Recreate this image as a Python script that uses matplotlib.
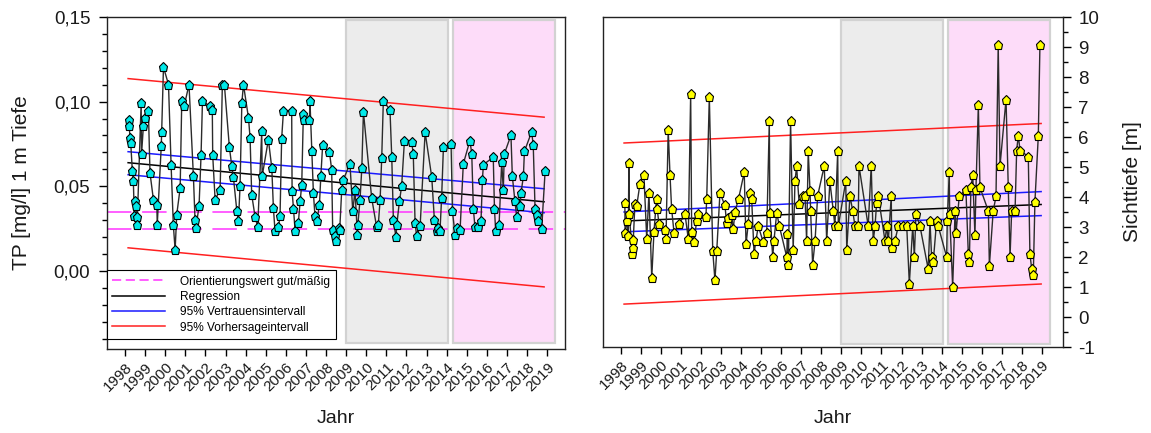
import matplotlib
matplotlib.use("Agg")
import matplotlib.pyplot as plt
from matplotlib.lines import Line2D
from matplotlib.patches import Rectangle
from matplotlib.ticker import MultipleLocator, FuncFormatter, FixedLocator

plt.rcParams['font.family'] = ['Liberation Sans', 'DejaVu Sans']

# ---------------- data ----------------
years = list(range(1998, 2020))

tp_time = [
    1998.17, 1998.20, 1998.25, 1998.28, 1998.36, 1998.41, 1998.46, 1998.50, 1998.53, 1998.58,
    1998.60, 1998.80, 1998.82, 1998.91, 1999.00, 1999.16, 1999.24, 1999.41, 1999.58, 1999.60,
    1999.80, 1999.82, 1999.91, 2000.16, 2000.29, 2000.40, 2000.49, 2000.57, 2000.74, 2000.82,
    2000.94, 2001.18, 2001.40, 2001.48, 2001.52, 2001.68, 2001.78, 2001.85, 2002.23, 2002.34,
    2002.36, 2002.48, 2002.73, 2002.84, 2002.94, 2003.19, 2003.31, 2003.39, 2003.56, 2003.64,
    2003.72, 2003.81, 2003.89, 2004.14, 2004.22, 2004.30, 2004.47, 2004.60, 2004.80, 2004.82,
    2005.13, 2005.30, 2005.38, 2005.46, 2005.63, 2005.71, 2005.79, 2005.88, 2006.29, 2006.31,
    2006.38, 2006.46, 2006.62, 2006.71, 2006.79, 2006.87, 2006.89, 2007.17, 2007.20, 2007.29,
    2007.37, 2007.45, 2007.54, 2007.67, 2007.74, 2007.83, 2008.17, 2008.28, 2008.33, 2008.45,
    2008.50, 2008.66, 2008.68, 2008.78, 2008.86, 2009.19, 2009.33, 2009.44, 2009.56, 2009.58,
    2009.69, 2009.78, 2009.86, 2010.27, 2010.52, 2010.60, 2010.69, 2010.77, 2010.85, 2011.18,
    2011.27, 2011.35, 2011.48, 2011.52, 2011.65, 2011.76, 2011.90, 2012.26, 2012.34, 2012.43,
    2012.51, 2012.68, 2012.93, 2013.26, 2013.39, 2013.51, 2013.59, 2013.67, 2013.75, 2013.84,
    2014.22, 2014.29, 2014.42, 2014.50, 2014.67, 2014.83, 2015.16, 2015.25, 2015.33, 2015.41,
    2015.58, 2015.71, 2015.78, 2015.83, 2016.32, 2016.38, 2016.44, 2016.61, 2016.74, 2016.82,
    2016.87, 2017.20, 2017.27, 2017.40, 2017.49, 2017.65, 2017.70, 2017.82, 2017.87, 2018.23,
    2018.31, 2018.40, 2018.48, 2018.56, 2018.73, 2018.90,
]
tp_value = [
    0.0894, 0.0858, 0.0785, 0.0756, 0.0592, 0.0533, 0.0322, 0.0410, 0.0381, 0.0318,
    0.0272, 0.0993, 0.0691, 0.0854, 0.0904, 0.0943, 0.0578, 0.0420, 0.0391, 0.0272,
    0.0736, 0.0819, 0.1204, 0.1101, 0.0624, 0.0272, 0.0124, 0.0332, 0.0489, 0.1002,
    0.0973, 0.1101, 0.0558, 0.0302, 0.0253, 0.0381, 0.0683, 0.1002, 0.0973, 0.0953,
    0.0683, 0.0420, 0.0480, 0.1101, 0.1101, 0.0730, 0.0618, 0.0553, 0.0355, 0.0292,
    0.0499, 0.0993, 0.1101, 0.0904, 0.0785, 0.0450, 0.0318, 0.0259, 0.0825, 0.0558,
    0.0776, 0.0608, 0.0371, 0.0237, 0.0257, 0.0322, 0.0780, 0.0943, 0.0943, 0.0470,
    0.0367, 0.0237, 0.0282, 0.0410, 0.0509, 0.0924, 0.0890, 0.0890, 0.1002, 0.0706,
    0.0460, 0.0322, 0.0292, 0.0391, 0.0558, 0.0742, 0.0700, 0.0598, 0.0243, 0.0203,
    0.0178, 0.0253, 0.0243, 0.0479, 0.0539, 0.0632, 0.0351, 0.0476, 0.0213, 0.0268,
    0.0420, 0.0608, 0.0939, 0.0430, 0.0257, 0.0272, 0.0420, 0.0667, 0.1002, 0.0953,
    0.0671, 0.0302, 0.0197, 0.0272, 0.0410, 0.0499, 0.0768, 0.0762, 0.0691, 0.0282,
    0.0203, 0.0262, 0.0819, 0.0553, 0.0302, 0.0233, 0.0253, 0.0237, 0.0430, 0.0730,
    0.0750, 0.0351, 0.0213, 0.0253, 0.0243, 0.0632, 0.0770, 0.0691, 0.0367, 0.0257,
    0.0257, 0.0292, 0.0539, 0.0628, 0.0671, 0.0367, 0.0233, 0.0272, 0.0643, 0.0479,
    0.0691, 0.0801, 0.0558, 0.0410, 0.0316, 0.0381, 0.0460, 0.0558, 0.0706, 0.0821,
    0.0742, 0.0367, 0.0331, 0.0292, 0.0249, 0.0588,
]

st_time = [
    1998.21, 1998.22, 1998.30, 1998.38, 1998.41, 1998.43, 1998.58, 1998.60, 1998.63, 1998.71,
    1998.80, 1998.96, 1999.16, 1999.30, 1999.41, 1999.55, 1999.66, 1999.79, 1999.82, 1999.91,
    2000.21, 2000.26, 2000.37, 2000.46, 2000.54, 2000.66, 2000.91, 2001.21, 2001.37, 2001.49,
    2001.54, 2001.65, 2001.79, 2001.87, 2002.25, 2002.29, 2002.42, 2002.59, 2002.70, 2002.79,
    2002.95, 2003.20, 2003.28, 2003.36, 2003.53, 2003.61, 2003.70, 2003.88, 2004.16, 2004.25,
    2004.36, 2004.45, 2004.53, 2004.65, 2004.74, 2004.86, 2005.11, 2005.28, 2005.41, 2005.44,
    2005.58, 2005.64, 2005.78, 2005.91, 2006.28, 2006.31, 2006.36, 2006.47, 2006.60, 2006.69,
    2006.77, 2006.90, 2007.07, 2007.19, 2007.27, 2007.35, 2007.44, 2007.47, 2007.57, 2007.69,
    2007.82, 2008.15, 2008.27, 2008.43, 2008.60, 2008.68, 2008.82, 2008.85, 2009.22, 2009.27,
    2009.43, 2009.57, 2009.68, 2009.84, 2009.88, 2010.34, 2010.49, 2010.59, 2010.68, 2010.76,
    2010.84, 2011.18, 2011.26, 2011.34, 2011.49, 2011.51, 2011.67, 2011.84, 2012.09, 2012.26,
    2012.39, 2012.56, 2012.64, 2012.72, 2012.92, 2013.33, 2013.42, 2013.50, 2013.58, 2013.75,
    2013.83, 2014.25, 2014.28, 2014.38, 2014.40, 2014.55, 2014.67, 2014.72, 2014.88, 2015.21,
    2015.33, 2015.38, 2015.46, 2015.55, 2015.66, 2015.71, 2015.83, 2015.91, 2016.33, 2016.38,
    2016.57, 2016.71, 2016.82, 2016.91, 2017.21, 2017.32, 2017.41, 2017.49, 2017.66, 2017.74,
    2017.82, 2017.91, 2018.32, 2018.40, 2018.49, 2018.57, 2018.65, 2018.82, 2018.90,
]
st_value = [
    3.81, 2.81, 3.20, 2.70, 5.13, 3.42, 2.11, 2.30, 2.58, 3.76,
    3.70, 4.43, 4.73, 2.61, 4.13, 1.30, 2.83, 3.95, 3.61, 3.11,
    2.90, 2.61, 6.24, 4.73, 3.61, 2.81, 3.11, 3.42, 2.61, 7.45,
    2.83, 2.51, 3.20, 3.42, 3.34, 3.95, 7.34, 2.21, 1.22, 2.21,
    4.13, 3.72, 3.14, 3.31, 3.39, 2.92, 3.50, 3.95, 4.82, 2.42,
    3.11, 4.13, 3.95, 2.11, 2.53, 3.03, 2.49, 2.79, 6.53, 3.48,
    2.00, 2.53, 3.48, 3.03, 2.00, 2.77, 1.74, 6.53, 2.25, 4.52,
    5.02, 3.76, 4.02, 4.04, 2.53, 5.53, 4.20, 3.53, 1.74, 2.53,
    4.04, 5.04, 2.53, 4.52, 3.53, 3.03, 5.53, 3.03, 4.52, 2.23,
    4.04, 3.53, 3.03, 3.03, 5.04, 3.03, 5.04, 2.53, 3.03, 3.81,
    4.04, 2.53, 3.03, 2.53, 4.04, 2.30, 2.53, 3.03, 3.03, 3.03,
    1.11, 3.03, 2.00, 3.45, 3.03, 1.60, 3.20, 2.00, 1.82, 3.20,
    3.03, 2.00, 3.20, 4.82, 3.45, 1.00, 3.53, 2.81, 4.04, 4.24,
    2.11, 1.82, 4.32, 4.74, 2.72, 4.24, 7.06, 4.32, 3.53, 1.71,
    3.53, 4.02, 9.07, 5.04, 7.25, 4.32, 2.00, 3.53, 3.53, 5.55,
    6.05, 5.55, 5.35, 2.11, 1.60, 1.41, 3.84, 6.05, 9.07,
]

# trend lines (start / end)
tp_trend_x = [1998.15, 2018.85]
tp_regression = [0.0639, 0.0408]
tp_conf_upper = [0.0704, 0.0485]
tp_conf_lower = [0.0568, 0.0343]
tp_pred_upper = [0.1136, 0.0908]
tp_pred_lower = [0.0136, -0.0095]
tp_guide = [0.035, 0.025]

st_trend_x = [1998.17, 2018.96]
st_regression = [3.20, 3.75]
st_conf_upper = [3.50, 4.18]
st_conf_lower = [2.84, 3.38]
st_pred_upper = [5.80, 6.45]
st_pred_lower = [0.43, 1.10]

period_gray = (2009.0, 2014.08)
period_pink = (2014.33, 2019.40)

legend_labels = ["Orientierungswert gut/mäßig", "Regression",
                 "95% Vertrauensintervall", "95% Vorhersageintervall"]

# ---------------- figure ----------------
W, H = 1151, 433
fig = plt.figure(figsize=(W / 100, H / 100), dpi=100)
ax1 = fig.add_axes([107 / W, 1 - 349 / H, 458 / W, 332 / H])
ax2 = fig.add_axes([603 / W, 1 - 347 / H, 460 / W, 330 / H])

RED = '#ff2020'
BLUE = '#1a1aff'
MAG = '#ff33ff'
LINEC = '#2b2b2b'
TXT = '#1a1a1a'


def add_periods(ax, y0, y1):
    for (a, b), fc in ((period_gray, '#ececec'), (period_pink, '#fddcf9')):
        ax.add_patch(Rectangle((a, y0), b - a, y1 - y0, facecolor=fc,
                               edgecolor='#d2d2d2', linewidth=1.6, zorder=0.5))


def style_xaxis(ax, bottom_px):
    ax.xaxis.set_major_locator(FixedLocator(years))
    ax.set_xticklabels([str(y) for y in years], rotation=45, ha='right',
                       rotation_mode='anchor', fontsize=11, color=TXT)
    ax.tick_params(axis='x', direction='out', length=5, width=1, pad=3)
    ax.set_xlabel("Jahr", fontsize=14, color=TXT)
    h = ax.get_position().height * H
    ax.xaxis.set_label_coords(0.5, -(410 - bottom_px) / h)


# ---- left panel ----
ax1.set_xlim(1997.10, 2019.89)
ax1.set_ylim(-0.0462, 0.15)
add_periods(ax1, -0.0428, 0.1485)
for yv in tp_guide:
    ax1.axhline(yv, color=MAG, lw=1.1, dashes=(16, 7), zorder=1)
ax1.plot(tp_trend_x, tp_pred_upper, color=RED, lw=1.1, zorder=2)
ax1.plot(tp_trend_x, tp_pred_lower, color=RED, lw=1.1, zorder=2)
ax1.plot(tp_trend_x, tp_conf_upper, color=BLUE, lw=1.1, zorder=2)
ax1.plot(tp_trend_x, tp_conf_lower, color=BLUE, lw=1.1, zorder=2)
ax1.plot(tp_trend_x, tp_regression, color='black', lw=1.1, zorder=2)
ax1.plot(tp_time, tp_value, color=LINEC, lw=1.0, zorder=3)
ax1.plot(tp_time, tp_value, linestyle='none', marker='p', markersize=6.5,
         markerfacecolor='#00e8e8', markeredgecolor='black', markeredgewidth=0.8, zorder=4)

ax1.yaxis.set_major_locator(MultipleLocator(0.05))
ax1.yaxis.set_minor_locator(MultipleLocator(0.01))
ax1.yaxis.set_major_formatter(FuncFormatter(lambda v, p: f"{v:.2f}".replace('.', ',').replace('-0,00', '0,00')))
ax1.tick_params(axis='y', which='major', direction='out', length=6, width=1, labelsize=13.5,
                pad=6, labelcolor=TXT)
ax1.tick_params(axis='y', which='minor', direction='out', length=3.5, width=1)
ax1.set_ylabel("TP [mg/l] 1 m Tiefe", fontsize=15, color=TXT)
ax1.yaxis.set_label_coords(-(107 - 31) / 458, 0.5)
style_xaxis(ax1, 349)

handles = [Line2D([], [], color=MAG, lw=1.1, dashes=(6, 3)),
           Line2D([], [], color='black', lw=1.1),
           Line2D([], [], color=BLUE, lw=1.1),
           Line2D([], [], color=RED, lw=1.1)]
leg = ax1.legend(handles, legend_labels, loc='lower left', bbox_to_anchor=(0.0, 0.03),
                 fontsize=8.6, frameon=True, fancybox=False, edgecolor='black',
                 framealpha=1, handlelength=4.4, handletextpad=1.3, labelspacing=0.28,
                 borderaxespad=0, borderpad=0.45)
leg.get_frame().set_linewidth(0.8)
leg.set_zorder(6)

# ---- right panel ----
ax2.set_xlim(1997.12, 2020.05)
ax2.set_ylim(-1, 10)
add_periods(ax2, -0.9, 9.9)
ax2.plot(st_trend_x, st_pred_upper, color=RED, lw=1.1, zorder=2)
ax2.plot(st_trend_x, st_pred_lower, color=RED, lw=1.1, zorder=2)
ax2.plot(st_trend_x, st_conf_upper, color=BLUE, lw=1.1, zorder=2)
ax2.plot(st_trend_x, st_conf_lower, color=BLUE, lw=1.1, zorder=2)
ax2.plot(st_trend_x, st_regression, color='black', lw=1.1, zorder=2)
ax2.plot(st_time, st_value, color=LINEC, lw=1.0, zorder=3)
ax2.plot(st_time, st_value, linestyle='none', marker='p', markersize=6.5,
         markerfacecolor='#ffff00', markeredgecolor='black', markeredgewidth=0.8, zorder=4)

ax2.yaxis.tick_right()
ax2.yaxis.set_label_position('right')
ax2.yaxis.set_major_locator(MultipleLocator(1))
ax2.yaxis.set_minor_locator(MultipleLocator(0.5))
ax2.yaxis.set_major_formatter(FuncFormatter(lambda v, p: f"{v:.0f}"))
ax2.tick_params(axis='y', which='major', direction='out', length=6, width=1, labelsize=13.5,
                pad=5, labelcolor=TXT)
ax2.tick_params(axis='y', which='minor', direction='out', length=3.5, width=1)
ax2.set_ylabel("Sichttiefe [m]", fontsize=15, color=TXT)
ax2.yaxis.set_label_coords((1123 - 603) / 460, 0.5)
style_xaxis(ax2, 347)

for ax in (ax1, ax2):
    for s in ax.spines.values():
        s.set_linewidth(1.0)
        s.set_color('#222222')

fig.savefig("out.png", dpi=100)
